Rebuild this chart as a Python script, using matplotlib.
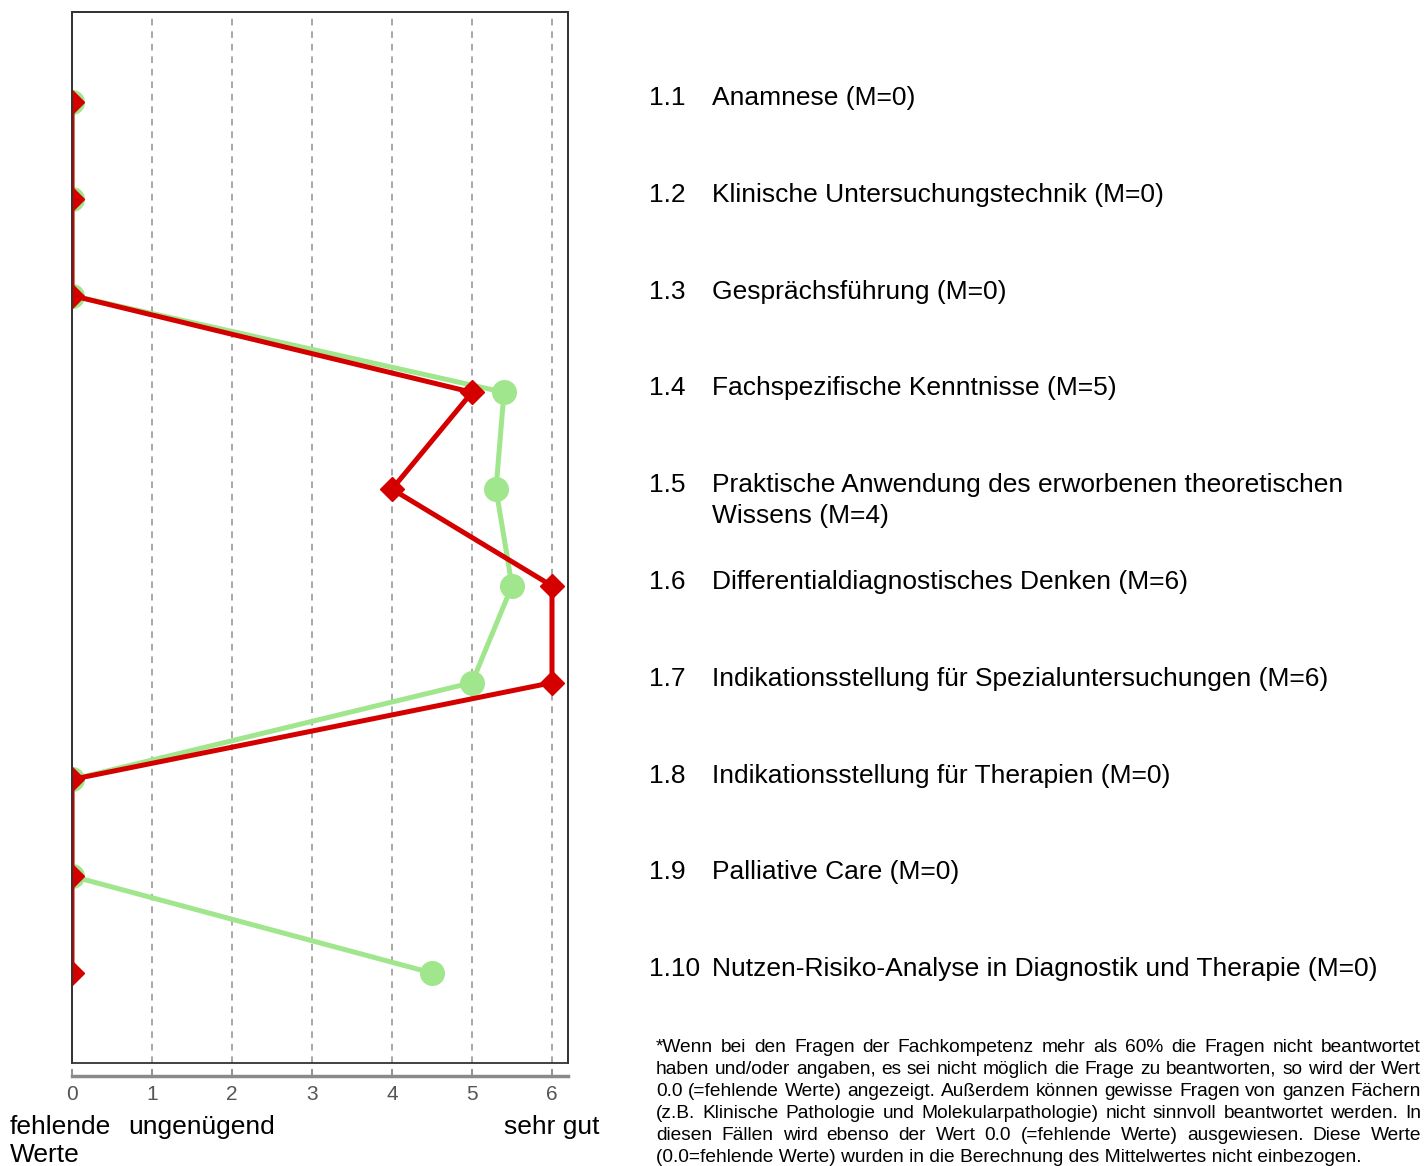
import matplotlib
matplotlib.use("Agg")
import matplotlib.pyplot as plt
import matplotlib.transforms as mtransforms
from matplotlib.patches import Rectangle

plt.rcParams['font.family'] = ['Liberation Sans', 'DejaVu Sans']

# data
codes = ['1.1', '1.2', '1.3', '1.4', '1.5', '1.6', '1.7', '1.8', '1.9', '1.10']
labels = ['Anamnese (M=0)',
          'Klinische Untersuchungstechnik (M=0)',
          'Gesprächsführung (M=0)',
          'Fachspezifische Kenntnisse (M=5)',
          'Praktische Anwendung des erworbenen theoretischen\nWissens (M=4)',
          'Differentialdiagnostisches Denken (M=6)',
          'Indikationsstellung für Spezialuntersuchungen (M=6)',
          'Indikationsstellung für Therapien (M=0)',
          'Palliative Care (M=0)',
          'Nutzen-Risiko-Analyse in Diagnostik und Therapie (M=0)']
green_vals = [0, 0, 0, 5.4, 5.3, 5.5, 5.0, 0, 0, 4.5]
red_vals = [0, 0, 0, 5, 4, 6, 6, 0, 0, 0]
xticks = [0, 1, 2, 3, 4, 5, 6]
footnote = [
    "*Wenn bei den Fragen der Fachkompetenz mehr als 60% die Fragen nicht beantwortet",
    "haben und/oder angaben, es sei nicht möglich die Frage zu beantworten, so wird der Wert",
    "0.0 (=fehlende Werte) angezeigt. Außerdem können gewisse Fragen von ganzen Fächern",
    "(z.B. Klinische Pathologie und Molekularpathologie) nicht sinnvoll beantwortet werden. In",
    "diesen Fällen wird ebenso der Wert 0.0 (=fehlende Werte) ausgewiesen. Diese Werte",
    "(0.0=fehlende Werte) wurden in die Berechnung des Mittelwertes nicht einbezogen.",
]

W, H = 1425, 1166
fig = plt.figure(figsize=(W / 100, H / 100), dpi=100)
ax = fig.add_axes([72 / W, 1 - 1063 / H, (568 - 72) / W, (1063 - 12) / H])

rows = list(range(1, len(codes) + 1))
ax.plot(green_vals, rows, color='#a0e68c', lw=3.6, marker='o', ms=17, zorder=3)
ax.plot(red_vals, rows, color='#d40000', lw=3.6, marker='D', ms=12, zorder=4)

ax.set_xlim(0, 6.2)
ax.set_ylim(10.93, 0.07)
ax.set_xticks(xticks)
ax.set_yticks([])
ax.xaxis.grid(True, ls=(0, (4, 3.5)), color='#999999', lw=1.2)

for s in ['left', 'right', 'top']:
    ax.spines[s].set_color('#333333')
    ax.spines[s].set_linewidth(1.3)
ax.spines['bottom'].set_position(('outward', 9))
ax.spines['bottom'].set_color('#8a8a8a')
ax.spines['bottom'].set_linewidth(2.5)
ax.spines['bottom'].set_bounds(0, 6.2)
ax.add_patch(Rectangle((0, 0), 1, 1, transform=ax.transAxes, fill=False,
                       ec='#333333', lw=1.3, clip_on=False, zorder=5))
ax.tick_params(axis='x', direction='in', length=5, width=1.3, color='#8a8a8a',
               labelsize=15, labelcolor='#555555', pad=7)


def px(x, y):
    return x / W, 1 - y / H


# bottom scale labels
fig.text(*px(10, 1115), 'fehlende\nWerte', fontsize=19, va='top', ha='left',
         linespacing=1.2)
fig.text(*px(128, 1115), 'ungenügend', fontsize=19, va='top', ha='left')
fig.text(*px(600, 1115), 'sehr gut', fontsize=19, va='top', ha='right')

# right side labels
trans = mtransforms.blended_transform_factory(fig.transFigure, ax.transData)
for r, c, lab in zip(rows, codes, labels):
    parts = lab.split('\n')
    ax.text(649 / W, r - 0.04, c, fontsize=19, va='center', ha='left',
            transform=trans, clip_on=False)
    for k, p in enumerate(parts):
        ax.text(712 / W, r - 0.04 + k * 0.32, p, fontsize=19, va='center',
                ha='left', transform=trans, clip_on=False)

# justified footnote
renderer = fig.canvas.get_renderer()
x0, x1 = 656, 1421
fs = 13.8
for i, line in enumerate(footnote):
    yc = 1047 + i * 22.2
    if i == len(footnote) - 1:
        fig.text(*px(x0, yc), line, fontsize=fs, va='center', ha='left')
        continue
    words = line.split(' ')
    objs = [fig.text(*px(x0, yc), w, fontsize=fs, va='center', ha='left') for w in words]
    widths = [o.get_window_extent(renderer).width for o in objs]
    gap = (x1 - x0 - sum(widths)) / (len(words) - 1)
    x = x0
    for o, w in zip(objs, widths):
        o.set_position(px(x, yc))
        x += w + gap

fig.savefig('out.png', dpi=100)
